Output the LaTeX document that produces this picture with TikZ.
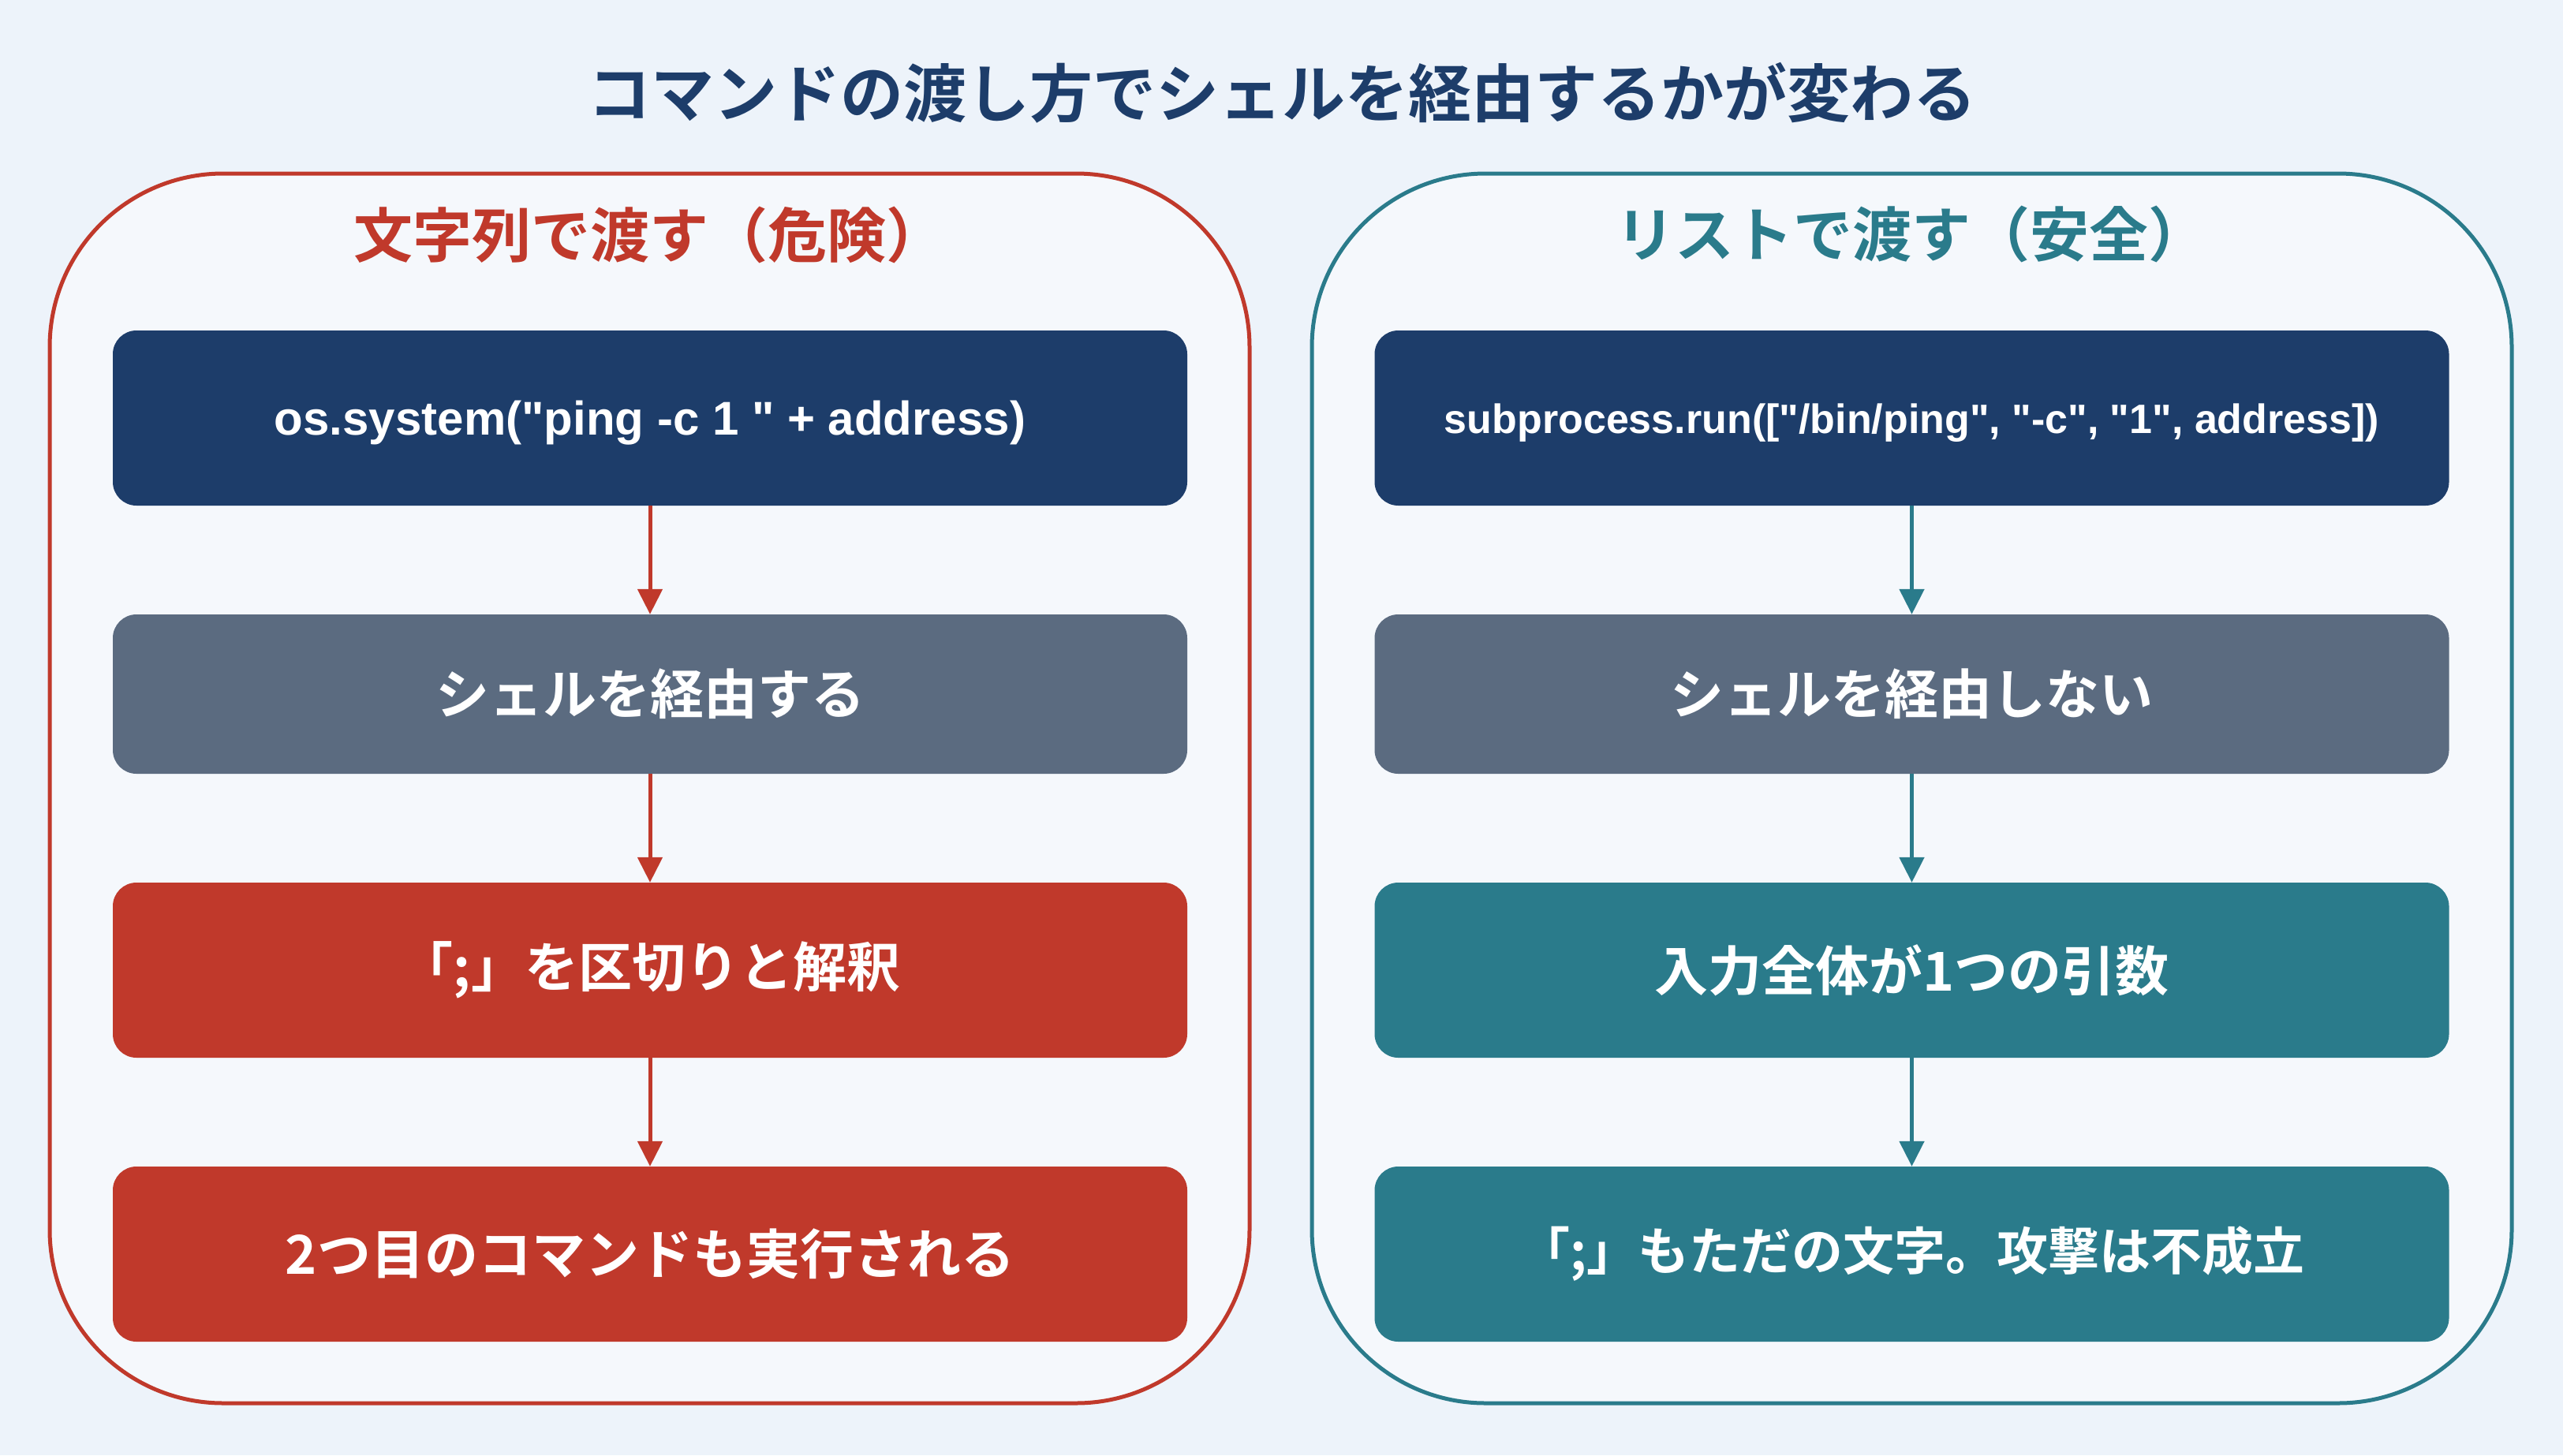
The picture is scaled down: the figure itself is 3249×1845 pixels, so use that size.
\documentclass[tikz,border=0pt]{standalone}
\usepackage{fontspec}
\setmainfont{Noto Sans CJK JP}[BoldFont={Noto Sans CJK JP Bold}]
\newfontfamily\codef{Liberation Sans}
\usetikzlibrary{arrows.meta}
\definecolor{bgc}{HTML}{EDF3FA}
\definecolor{panelc}{HTML}{F5F8FC}
\definecolor{navyc}{HTML}{1D3D6A}
\definecolor{slatec}{HTML}{5B6B80}
\definecolor{redc}{HTML}{C0392B}
\definecolor{tealc}{HTML}{2A7B8B}
\tikzset{
  panel/.style={line width=5pt, fill=panelc, rounded corners=220pt, minimum width=1521pt, minimum height=1559pt, inner sep=0pt},
  box/.style={rounded corners=30pt, minimum width=1362pt, minimum height=222pt, text=white, inner sep=0pt, font=\bfseries\fontsize{68}{80}\selectfont},
  codebox/.style={box, fill=navyc},
  codetext/.style={text=white, inner sep=0pt},
  flow/.style={line width=5pt, -{Triangle[length=32pt,width=31pt]}},
  ptitle/.style={font=\bfseries\fontsize{75}{90}\selectfont, inner sep=0pt}
}
\begin{document}
\begin{tikzpicture}[x=1pt,y=-1pt]
\fill[bgc] (0,0) rectangle (3249,1845);
\useasboundingbox (0,0) rectangle (3249,1845);

\node[font=\bfseries\fontsize{80}{96}\selectfont, text=navyc, inner sep=0pt] (title) at (1625,118) {コマンドの渡し方でシェルを経由するかが変わる};

% left panel
\node[panel, draw=redc] (lp) at (823.5,999.5) {};
\node[ptitle, text=redc] (lt) at (823.5,298) {文字列で渡す（危険）};
\node[codebox] (l1) at (824,530) {};
\node[codetext, font=\codef\bfseries\fontsize{60}{72}\selectfont] (l1t) at ([yshift=-6pt]l1.center) {os.system("ping -c 1 " + address)};
\node[box, fill=slatec, minimum height=202pt] (l2) at (824,880) {シェルを経由する};
\node[box, fill=redc] (l3) at (824,1230) {「;」を区切りと解釈};
\node[box, fill=redc] (l4) at (824,1590) {2つ目のコマンドも実行される};
\draw[flow, redc] (l1) -- (l2);
\draw[flow, redc] (l2) -- (l3);
\draw[flow, redc] (l3) -- (l4);

% right panel
\node[panel, draw=tealc] (rp) at (2423.5,999.5) {};
\node[ptitle, text=tealc] (rt) at (2423.5,297) {リストで渡す（安全）};
\node[codebox] (r1) at (2423.5,530) {};
\node[codetext, font=\codef\bfseries\fontsize{52}{62}\selectfont] (r1t) at ([yshift=-6pt]r1.center) {subprocess.run(["/bin/ping", "-c", "1", address])};
\node[box, fill=slatec, minimum height=202pt] (r2) at (2423.5,880) {シェルを経由しない};
\node[box, fill=tealc] (r3) at (2423.5,1230) {入力全体が1つの引数};
\node[box, fill=tealc, font=\bfseries\fontsize{65}{78}\selectfont] (r4) at (2423.5,1590) {「;」もただの文字。攻撃は不成立};
\draw[flow, tealc] (r1) -- (r2);
\draw[flow, tealc] (r2) -- (r3);
\draw[flow, tealc] (r3) -- (r4);
\end{tikzpicture}
\end{document}
